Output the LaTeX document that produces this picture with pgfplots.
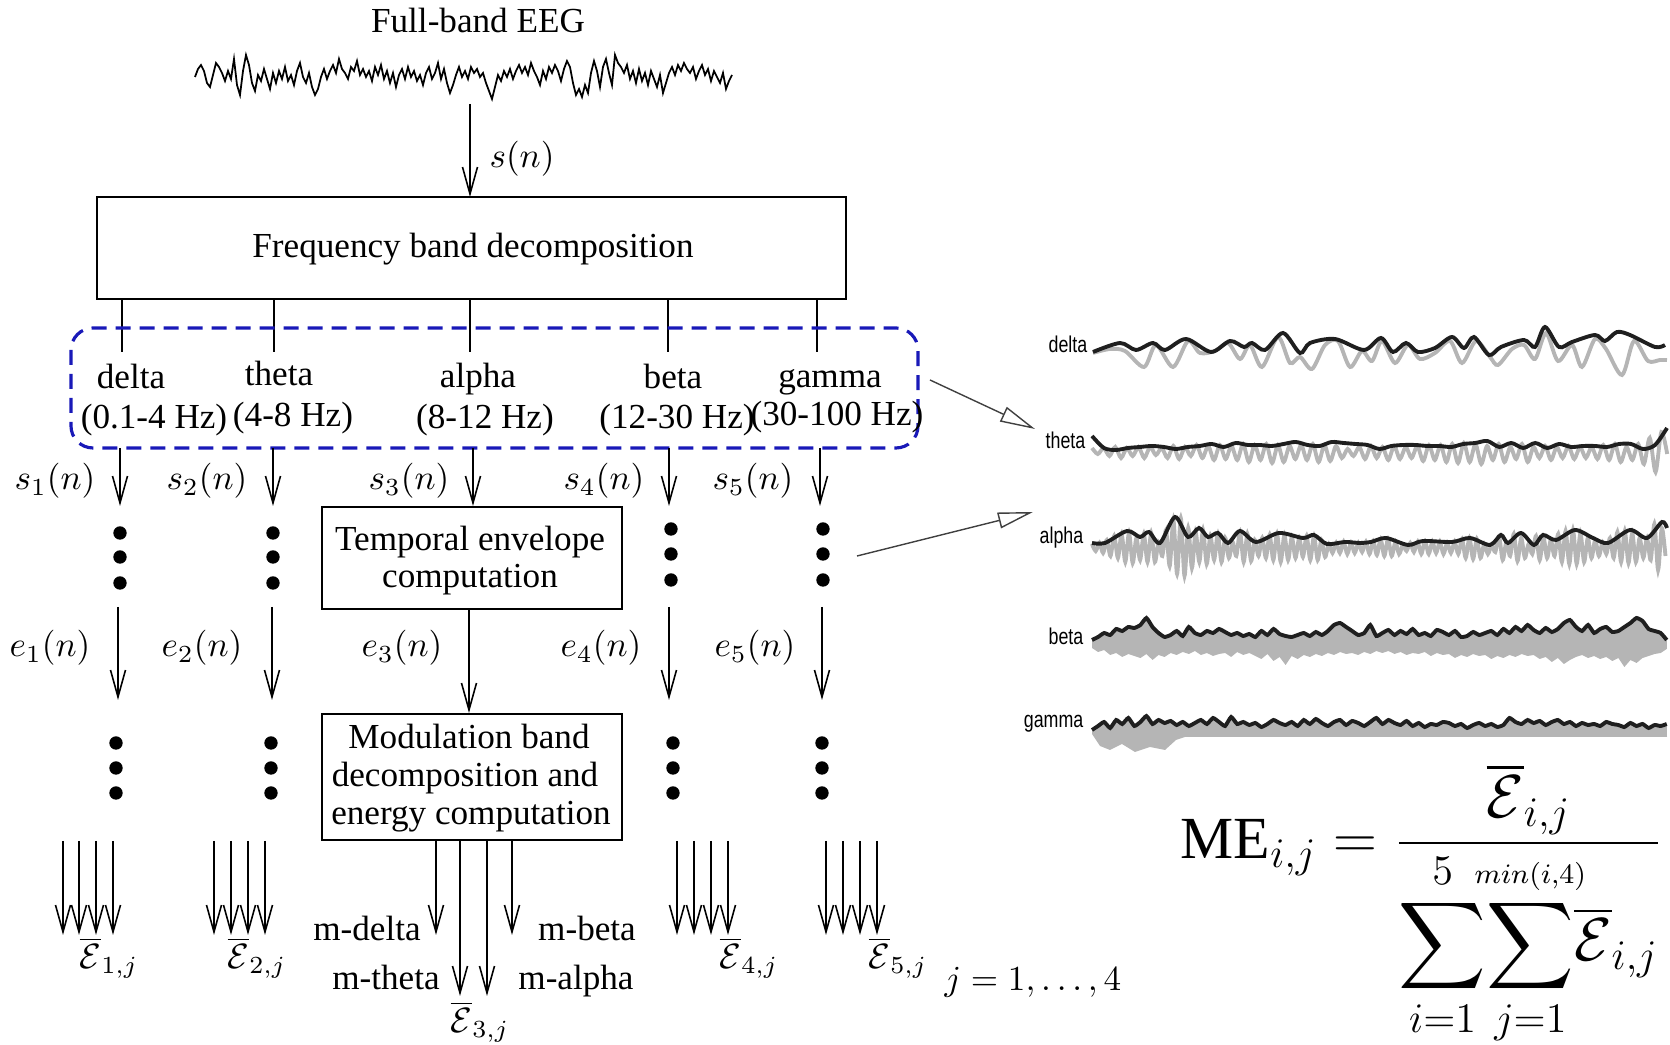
\documentclass[border=0pt]{standalone}
\usepackage{amsmath}
\usepackage{mathtools}
\usepackage{fontspec}
\setmainfont{Liberation Serif}
\setsansfont{Liberation Sans}
\usepackage{graphicx}
\usepackage{pgfplots}
\pgfplotsset{compat=1.18}
\usepgfplotslibrary{fillbetween}
\usetikzlibrary{arrows.meta}
\definecolor{dblue}{rgb}{0.1,0.1,0.72}
\definecolor{lgray}{gray}{0.71}
\begin{document}
\begin{tikzpicture}[
 arr/.style={line width=0.45pt,-{Straight Barb[length=2.7mm,width=1.5mm]}},
 lbl/.style={font=\sffamily\fontsize{6.5}{7}\selectfont, anchor=east, inner sep=0pt}
]
\begin{axis}[scale only axis, width=16.7cm, height=10.45cm, xmin=0, xmax=1670, ymin=0, ymax=1045, y dir=reverse, hide axis, clip=false, set layers, at={(0,0)}, anchor=south west]
\addplot[draw=none] coordinates {(0,0) (1670,1045)};

% ---------- Full-band EEG ----------
\addplot[black, line width=0.5pt] table[row sep=\\, header=false, x expr=195+3*\coordindex, y expr=77-\thisrowno{0}] {
0\\8\\12\\6\\-6\\-10\\2\\14\\10\\4\\
-4\\6\\-2\\18\\-8\\-18\\6\\22\\12\\-6\\
-14\\2\\-4\\8\\-2\\-12\\4\\-6\\6\\-2\\
10\\-4\\2\\-8\\6\\14\\0\\-6\\4\\-10\\
-18\\-12\\0\\8\\-2\\6\\12\\4\\18\\8\\
4\\-2\\10\\6\\16\\2\\8\\0\\6\\-4\\
10\\2\\12\\-2\\6\\-6\\4\\-10\\2\\8\\
-2\\10\\0\\6\\-4\\2\\-8\\4\\10\\-2\\
4\\14\\-2\\8\\-6\\-16\\-8\\2\\10\\0\\
6\\-2\\10\\4\\8\\0\\4\\-6\\-14\\-22\\
-10\\2\\-4\\6\\0\\8\\-2\\6\\12\\4\\
10\\2\\14\\6\\0\\-8\\6\\-2\\10\\4\\
12\\6\\-4\\8\\16\\10\\-6\\-18\\-12\\-20\\
-8\\-16\\4\\16\\6\\-10\\10\\18\\4\\-8\\
22\\14\\10\\4\\12\\-2\\6\\-6\\8\\-4\\
4\\-8\\6\\-2\\-10\\2\\-16\\-6\\4\\10\\
2\\12\\6\\14\\8\\4\\10\\-2\\6\\12\\
2\\8\\-4\\6\\0\\-6\\4\\-12\\-4\\2\\
};

% ---------- delta ----------
\addplot[lgray, line width=1.1pt, smooth] table[row sep=\\, header=false, x index=0, y expr=355-\thisrowno{1}] {
1093 2\\1110 6\\1125 4\\1144 -12\\1156 10\\1173 -12\\1188 14\\1200 2\\1215 4\\1228 12\\1240 -4\\1250 10\\1262 -12\\1278 18\\1290 -8\\1300 -2\\1312 -14\\1325 10\\1338 14\\1350 -12\\1362 4\\1372 -6\\1382 14\\1395 -8\\1408 10\\1420 -4\\1435 2\\1450 14\\1462 -8\\1476 14\\1490 -2\\1498 -10\\1512 6\\1524 10\\1535 -4\\1546 22\\1558 -6\\1572 10\\1582 -12\\1595 16\\1606 6\\1622 -20\\1634 14\\1648 -6\\1660 -5\\1667 -5\\
};
\addplot[black!88, line width=1.1pt, smooth] table[row sep=\\, header=false, x index=0, y expr=355-\thisrowno{1}] {
1093 3\\1120 12\\1136 5\\1153 12\\1165 5\\1186 16\\1211 3\\1230 14\\1244 8\\1252 12\\1265 5\\1283 22\\1300 2\\1310 12\\1335 16\\1364 5\\1381 17\\1393 3\\1406 12\\1418 3\\1435 7\\1452 18\\1464 7\\1474 18\\1489 0\\1501 8\\1524 15\\1535 8\\1545 28\\1559 8\\1572 13\\1595 20\\1605 14\\1617 23\\1630 20\\1655 8\\1665 10\\
};

% ---------- theta ----------
\addplot[lgray, line width=1.1pt, smooth] table[row sep=\\, header=false, x expr=1092+5.81*\coordindex, y expr=450-\thisrowno{0}] {
2\\-4\\2\\-6\\3\\-8\\2\\-6\\3\\-8\\3\\-5\\2\\-8\\4\\-9\\3\\-6\\5\\-8\\
4\\-10\\5\\-9\\4\\-10\\6\\-12\\5\\-10\\6\\-13\\5\\-12\\4\\-9\\5\\-10\\6\\-12\\
5\\-11\\4\\-8\\1\\-6\\3\\-9\\4\\-8\\3\\-10\\4\\-9\\3\\-8\\4\\-11\\5\\-10\\
5\\-12\\6\\-13\\7\\-12\\6\\-14\\4\\-10\\6\\-12\\3\\-9\\6\\-12\\3\\-8\\4\\-10\\
3\\-8\\4\\-9\\3\\-8\\3\\-9\\5\\-10\\6\\-12\\3\\-10\\6\\-14\\12\\-22\\18\\-4\\
};
\addplot[black!88, line width=1.1pt, smooth] table[row sep=\\, header=false, x expr=1092+11.98*\coordindex, y expr=450-\thisrowno{0}] {
14\\2\\0\\2\\3\\4\\3\\1\\3\\4\\6\\3\\
7\\5\\5\\4\\6\\8\\5\\4\\8\\7\\6\\5\\
1\\4\\5\\5\\4\\4\\3\\6\\7\\9\\3\\7\\
2\\7\\2\\6\\3\\4\\4\\3\\6\\6\\1\\5\\22\\
};

% ---------- alpha ----------
\addplot[lgray, line width=1.1pt, smooth] table[row sep=\\, header=false, x expr=1092+3.7*\coordindex, y expr=548-\thisrowno{0}] {
4\\-3\\5\\-5\\8\\-8\\12\\-10\\14\\-14\\15\\-15\\10\\-12\\14\\-14\\15\\-14\\6\\-8\\
18\\-18\\28\\-26\\30\\-28\\20\\-20\\16\\-14\\18\\-16\\12\\-12\\14\\-14\\10\\-10\\6\\-8\\
16\\-14\\14\\-13\\8\\-8\\10\\-10\\13\\-12\\14\\-14\\13\\-12\\11\\-10\\10\\-9\\12\\-12\\
12\\-12\\8\\-9\\4\\-5\\5\\-5\\6\\-6\\5\\-5\\5\\-4\\6\\-6\\7\\-7\\9\\-8\\
9\\-8\\6\\-6\\3\\-3\\5\\-4\\6\\-6\\7\\-6\\6\\-5\\6\\-6\\5\\-5\\6\\-6\\
9\\-10\\10\\-11\\9\\-10\\4\\-6\\3\\-4\\12\\-12\\6\\-8\\14\\-13\\10\\-10\\4\\-6\\
12\\-12\\11\\-10\\8\\-8\\14\\-14\\17\\-16\\18\\-16\\15\\-14\\10\\-10\\8\\-8\\6\\-6\\
10\\-10\\16\\-14\\17\\-15\\15\\-14\\10\\-10\\10\\-12\\24\\-22\\20\\-8\\
};
\addplot[black!88, line width=1.1pt, smooth] table[row sep=\\, header=false, x index=0, y expr=548-\thisrowno{1}] {
1092 5\\1105 5\\1127 17\\1140 11\\1149 16\\1160 5\\1175 31\\1188 11\\1199 20\\1208 11\\1218 15\\1228 5\\1240 17\\1256 6\\1279 15\\1303 10\\1314 13\\1327 4\\1345 6\\1360 5\\1371 6\\1386 10\\1408 3\\1423 7\\1452 6\\1470 10\\1490 3\\1501 13\\1508 5\\1521 15\\1534 3\\1543 13\\1556 8\\1575 18\\1593 10\\1608 5\\1630 18\\1647 10\\1662 26\\1667 20\\
};

% ---------- beta ----------
\addplot[name path=bl, draw=none] table[row sep=\\, header=false, x expr=1092+6.05*\coordindex, y expr=645-\thisrowno{0}] {
-3\\-7\\-5\\-10\\-8\\-12\\-9\\-11\\-13\\-9\\-15\\-10\\
-12\\-8\\-10\\-7\\-9\\-6\\-10\\-8\\-11\\-9\\-8\\-12\\
-7\\-10\\-8\\-11\\-14\\-9\\-16\\-12\\-20\\-11\\-14\\-10\\
-12\\-9\\-11\\-8\\-10\\-7\\-9\\-8\\-10\\-7\\-9\\-6\\
-8\\-6\\-9\\-7\\-10\\-8\\-9\\-7\\-11\\-8\\-10\\-9\\
-13\\-10\\-12\\-9\\-11\\-10\\-14\\-11\\-13\\-10\\-12\\-9\\
-11\\-10\\-14\\-12\\-17\\-13\\-19\\-15\\-12\\-10\\-13\\-11\\
-14\\-12\\-16\\-13\\-22\\-15\\-18\\-13\\-11\\-9\\-8\\-4\\
};
\addplot[name path=bb, black!88, line width=1.1pt, smooth, tension=0.3] table[row sep=\\, header=false, x expr=1092+6.05*\coordindex, y expr=645-\thisrowno{0}] {
5\\8\\12\\10\\16\\14\\18\\17\\20\\27\\18\\12\\
8\\10\\14\\9\\18\\12\\10\\14\\12\\16\\13\\10\\
12\\9\\11\\8\\14\\10\\16\\11\\9\\8\\10\\12\\
9\\13\\10\\14\\20\\22\\18\\14\\10\\12\\20\\9\\
12\\15\\10\\14\\11\\16\\10\\12\\9\\15\\13\\10\\
14\\8\\9\\13\\10\\12\\14\\10\\16\\12\\18\\14\\
20\\15\\12\\17\\13\\16\\22\\25\\18\\14\\20\\12\\
16\\18\\13\\14\\18\\22\\27\\24\\16\\14\\12\\5\\
};
\addplot[lgray, on layer=axis background] fill between[of=bb and bl];

% ---------- gamma ----------
\addplot[name path=gl, draw=none] table[row sep=\\, header=false, x index=0, y expr=732-\thisrowno{1}] {
1092 -2\\1100 -14\\1110 -18\\1122 -12\\1135 -20\\1150 -15\\1165 -18\\1176 -8\\1185 -5\\1667 -5\\
};
\addplot[name path=gb, black!88, line width=1.1pt, smooth, tension=0.3] table[row sep=\\, header=false, x expr=1092+6.05*\coordindex, y expr=732-\thisrowno{0}] {
2\\6\\10\\4\\12\\8\\14\\6\\10\\16\\8\\12\\
9\\11\\7\\10\\6\\9\\12\\8\\14\\10\\6\\15\\
8\\10\\7\\9\\5\\8\\12\\9\\7\\10\\6\\12\\
8\\13\\9\\6\\10\\12\\7\\11\\9\\6\\10\\14\\
8\\12\\9\\7\\11\\6\\9\\5\\8\\7\\10\\9\\
6\\8\\4\\7\\9\\6\\8\\5\\7\\14\\10\\8\\
12\\9\\11\\7\\10\\12\\8\\10\\6\\9\\7\\8\\
6\\10\\8\\7\\5\\9\\6\\8\\4\\7\\6\\8\\
};
\addplot[lgray, on layer=axis background] fill between[of=gb and gl];

% right labels
\node[lbl] at (axis cs:1088,344) {\scalebox{0.78}[1]{delta}};
\node[lbl] at (axis cs:1086,440) {\scalebox{0.78}[1]{theta}};
\node[lbl] at (axis cs:1084,538) {\scalebox{0.78}[1]{alpha}};
\node[lbl] at (axis cs:1084,636) {\scalebox{0.78}[1]{beta}};
\node[lbl] at (axis cs:1084,724) {\scalebox{0.78}[1]{gamma}};

% ---------- diagram ----------
\node[anchor=base] at (axis cs:478,33) {Full-band EEG};
\draw[arr] (axis cs:470,104) -- (axis cs:470,197);
\node[anchor=base] at (axis cs:522,168) {$s(n)$};
\draw[line width=0.45pt] (axis cs:97,197) rectangle (axis cs:846,299);
\node[anchor=base] at (axis cs:473,258) {Frequency band decomposition};
\pgfplotsinvokeforeach{122,274,470,668,817}{\draw[line width=0.45pt] (axis cs:#1,299) -- (axis cs:#1,352);}
\draw[dblue, line width=0.9pt, dash pattern=on 1.5mm off 0.9mm, rounded corners=2.2mm] (axis cs:71,328) rectangle (axis cs:918,448);

\node[anchor=base] at (axis cs:131,389) {delta};
\node[anchor=base] at (axis cs:154,429) {(0.1-4 Hz)};
\node[anchor=base] at (axis cs:279,386) {theta};
\node[anchor=base] at (axis cs:293,427) {(4-8 Hz)};
\node[anchor=base] at (axis cs:478,388) {alpha};
\node[anchor=base] at (axis cs:485,429) {(8-12 Hz)};
\node[anchor=base] at (axis cs:673,389) {beta};
\node[anchor=base] at (axis cs:677,429) {(12-30 Hz)};
\node[anchor=base] at (axis cs:830,388) {gamma};
\node[anchor=base] at (axis cs:837,426) {(30-100 Hz)};

\pgfplotsinvokeforeach{120,273,473,669,820}{\draw[arr] (axis cs:#1,448) -- (axis cs:#1,506);}
\node[anchor=base] at (axis cs:55,490) {$s_1(n)$};
\node[anchor=base] at (axis cs:207,490) {$s_2(n)$};
\node[anchor=base] at (axis cs:409,490) {$s_3(n)$};
\node[anchor=base] at (axis cs:604,490) {$s_4(n)$};
\node[anchor=base] at (axis cs:753,490) {$s_5(n)$};

\addplot[only marks, mark=*, mark size=1.7pt, black] coordinates {(120,533)(120,557)(120,583)(273,533)(273,557)(273,583)(671,529)(671,554)(671,580)(823,529)(823,554)(823,580)};

\draw[line width=0.45pt] (axis cs:322,507) rectangle (axis cs:622,609);
\node[anchor=base] at (axis cs:470,551) {Temporal envelope};
\node[anchor=base] at (axis cs:470,588) {computation};

\draw[arr] (axis cs:118,607) -- (axis cs:118,700);
\draw[arr] (axis cs:272,607) -- (axis cs:272,700);
\draw[arr] (axis cs:469,609) -- (axis cs:469,713);
\draw[arr] (axis cs:669,607) -- (axis cs:669,700);
\draw[arr] (axis cs:822,607) -- (axis cs:822,700);
\node[anchor=base] at (axis cs:50,657) {$e_1(n)$};
\node[anchor=base] at (axis cs:202,657) {$e_2(n)$};
\node[anchor=base] at (axis cs:402,657) {$e_3(n)$};
\node[anchor=base] at (axis cs:601,657) {$e_4(n)$};
\node[anchor=base] at (axis cs:755,657) {$e_5(n)$};

\addplot[only marks, mark=*, mark size=1.7pt, black] coordinates {(116,743)(116,768)(116,793)(271,743)(271,768)(271,793)(673,743)(673,768)(673,793)(822,743)(822,768)(822,793)};

\draw[line width=0.45pt] (axis cs:322,714) rectangle (axis cs:622,840);
\node[anchor=base] at (axis cs:469,749) {Modulation band};
\node[anchor=base] at (axis cs:465,787) {decomposition and};
\node[anchor=base] at (axis cs:471,825) {energy computation};

\pgfplotsinvokeforeach{63,79,96,113,214,231,248,265,677,694,711,728,826,843,860,877,436,512}{\draw[arr] (axis cs:#1,841) -- (axis cs:#1,935);}
\pgfplotsinvokeforeach{460,487}{\draw[arr] (axis cs:#1,841) -- (axis cs:#1,996);}

\node at (axis cs:109,958) {$\overline{\mathcal{E}}_{1,j}$};
\node at (axis cs:257,958) {$\overline{\mathcal{E}}_{2,j}$};
\node at (axis cs:749,958) {$\overline{\mathcal{E}}_{4,j}$};
\node at (axis cs:898,958) {$\overline{\mathcal{E}}_{5,j}$};
\node at (axis cs:480,1022) {$\overline{\mathcal{E}}_{3,j}$};
\node[anchor=base] at (axis cs:367,941) {m-delta};
\node[anchor=base] at (axis cs:587,941) {m-beta};
\node[anchor=base] at (axis cs:386,990) {m-theta};
\node[anchor=base] at (axis cs:576,990) {m-alpha};
\node at (axis cs:1033,982) {$j=1,\ldots,4$};

\draw[black!75, line width=0.4pt, -{Triangle[open, length=3.5mm, width=1.6mm]}] (axis cs:930,380) -- (axis cs:1035,429);
\draw[black!75, line width=0.4pt, -{Triangle[open, length=3.5mm, width=1.6mm]}] (axis cs:857,556) -- (axis cs:1033,512);

\node[anchor=west, inner sep=0pt, font=\fontsize{17}{21}\selectfont] at (axis cs:1180,905) {$\displaystyle \mathrm{ME}_{i,j} = \frac{\overline{\mathcal{E}}_{i,j}}{\displaystyle\sum_{i=1}^{5}\!\sum_{j=1}^{\mathclap{\scriptscriptstyle min(i,4)}}\!\overline{\mathcal{E}}_{i,j}}$};
\end{axis}
\pgfresetboundingbox
\useasboundingbox (0,0) rectangle (16.7cm,10.45cm);
\end{tikzpicture}
\end{document}
